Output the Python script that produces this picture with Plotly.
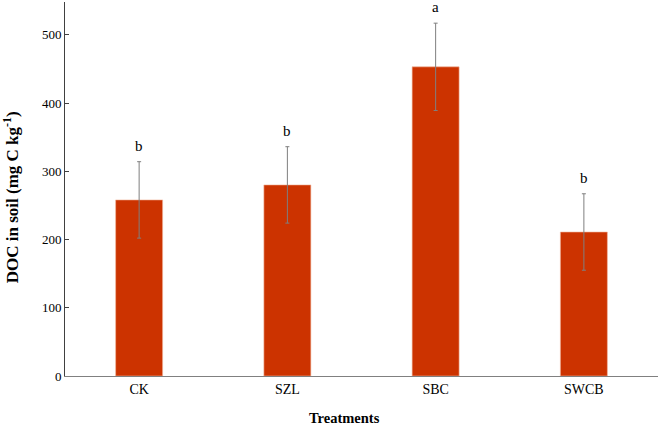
import plotly.graph_objects as go

treatments = ["CK", "SZL", "SBC", "SWCB"]
doc_mean = [258, 280, 453, 211]
doc_sd = [56, 56, 64, 56]
letters = ["b", "b", "a", "b"]

bar_color = "#CC3300"
font_family = "Liberation Serif, Times New Roman, serif"

fig = go.Figure()
fig.add_trace(go.Bar(
    x=treatments,
    y=doc_mean,
    width=0.317,
    marker=dict(color=bar_color, line=dict(color="#F2B8A0", width=0.6)),
    error_y=dict(type="data", array=doc_sd, visible=True,
                 color="#7F7F7F", thickness=1, width=2),
    showlegend=False,
))

for t, m, s, l in zip(treatments, doc_mean, doc_sd, letters):
    fig.add_annotation(x=t, y=m + s, text=l, showarrow=False,
                       yanchor="bottom", yshift=6,
                       font=dict(family=font_family, size=15, color="#000000"))

# axis titles as annotations for exact placement
fig.add_annotation(xref="paper", yref="paper", x=0.472, y=-0.1135,
                   text="<b>Treatments</b>", showarrow=False,
                   xanchor="center", yanchor="middle",
                   font=dict(family=font_family, size=14.5, color="#000000"))
fig.add_annotation(xref="paper", yref="paper", x=-0.092, y=0.479,
                   text="<b>DOC in soil (mg C kg<sup>-1</sup>)</b>", showarrow=False,
                   textangle=-90, xanchor="center", yanchor="middle",
                   font=dict(family=font_family, size=17, color="#000000"))

fig.update_layout(
    width=659, height=426,
    margin=dict(l=65, r=1, t=2, b=50),
    plot_bgcolor="white", paper_bgcolor="white",
    font=dict(family=font_family, size=13, color="#000000"),
    xaxis=dict(
        showline=True, linecolor="#808080", linewidth=1,
        ticks="", showgrid=False,
        tickfont=dict(family=font_family, size=14),
    ),
    yaxis=dict(
        range=[0, 548], showline=True, linecolor="#404040", linewidth=1,
        ticks="inside", ticklen=4, tickcolor="#404040",
        dtick=100, showgrid=False, zeroline=False,
        tickfont=dict(family=font_family, size=13),
    ),
)

fig.write_html("out.html", config={"displayModeBar": False},
               post_script="document.body.style.margin='0';")
